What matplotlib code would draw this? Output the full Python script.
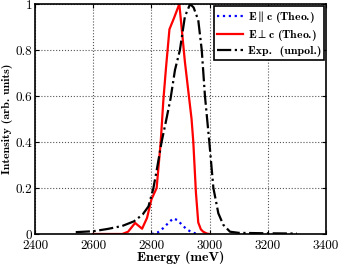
import numpy as np
import matplotlib
matplotlib.use('Agg')
import matplotlib.pyplot as plt

plt.rcParams['mathtext.fontset'] = 'cm'
plt.rcParams['font.family'] = 'cmr10'
plt.rcParams['axes.formatter.use_mathtext'] = True

# E parallel c (Theo.)
par_x = [2800, 2820, 2840, 2860, 2875, 2890, 2905, 2920, 2935, 2950, 2965]
par_y = [0, 0.005, 0.025, 0.05, 0.068, 0.06, 0.04, 0.022, 0.01, 0.003, 0]

# E perp c (Theo.)
perp_x = [2600, 2700, 2720, 2744, 2768, 2785, 2800, 2818, 2832, 2841, 2850, 2862,
          2878, 2896, 2915, 2938, 2944, 2953, 2961, 2970, 2978, 2990, 3000]
perp_y = [0, 0, 0.01, 0.048, 0.023, 0.07, 0.15, 0.2, 0.40, 0.58, 0.72, 0.89,
          0.94, 1.0, 0.75, 0.50, 0.40, 0.18, 0.05, 0.02, 0.01, 0.002, 0]

# Exp. (unpol.)
exp_x = [2540, 2600, 2650, 2700, 2740, 2770, 2790, 2807, 2820, 2835, 2850, 2866,
         2881, 2898, 2915, 2933, 2945, 2961, 2973, 2984, 2999, 3013, 3030, 3047,
         3070, 3100, 3200, 3300]
exp_y = [0.008, 0.012, 0.022, 0.035, 0.055, 0.085, 0.12, 0.2, 0.29, 0.40, 0.49, 0.59,
         0.713, 0.8, 0.945, 1.0, 0.985, 0.93, 0.8, 0.6, 0.40, 0.2, 0.09, 0.04,
         0.01, 0.005, 0.003, 0.002]

xticks = [2400, 2600, 2800, 3000, 3200, 3400]
yticks = [0, 0.2, 0.4, 0.6, 0.8, 1]
ytick_labels = ['0', '0.2', '0.4', '0.6', '0.8', '1']

fig = plt.figure(figsize=(3.39, 2.67), dpi=100)
ax = fig.add_axes([0.1032, 0.1236, 0.8585, 0.8614])

ax.plot(par_x, par_y, color='blue', linestyle=':', linewidth=1.6,
        label=r'$\mathbf{E}\parallel\mathbf{c}$ (Theo.)')
ax.plot(perp_x, perp_y, color='red', linestyle='-', linewidth=1.6,
        label=r'$\mathbf{E}\perp\mathbf{c}$ (Theo.)')
ax.plot(exp_x, exp_y, color='black', linestyle='-.', linewidth=1.6,
        label='Exp.  (unpol.)')

ax.set_xlim(2400, 3400)
ax.set_ylim(0, 1)
ax.set_xticks(xticks)
ax.set_xticklabels([str(t) for t in xticks])
ax.set_yticks(yticks)
ax.set_yticklabels(ytick_labels)
ax.tick_params(direction='in', top=True, right=True, labelsize=9.5, length=3, pad=2)
ax.tick_params(axis='x', pad=4.5)
ax.grid(True, linestyle=':', color='#555555', linewidth=0.8)
for s in ax.spines.values():
    s.set_linewidth(1.2)

ax.set_xlabel('Energy (meV)', fontsize=10, family='cmb10', labelpad=-1)
ax.set_ylabel('Intensity (arb. units)', fontsize=8.5, family='cmb10', labelpad=2)

leg = ax.legend(loc='upper right', prop={'family': 'cmb10', 'size': 8.5},
                fancybox=False, edgecolor='black', framealpha=1,
                handlelength=2.2, borderpad=0.25, labelspacing=0.25,
                handletextpad=0.4, borderaxespad=0.15)
leg.get_frame().set_linewidth(1.2)

fig.savefig('out.png', dpi=100)
